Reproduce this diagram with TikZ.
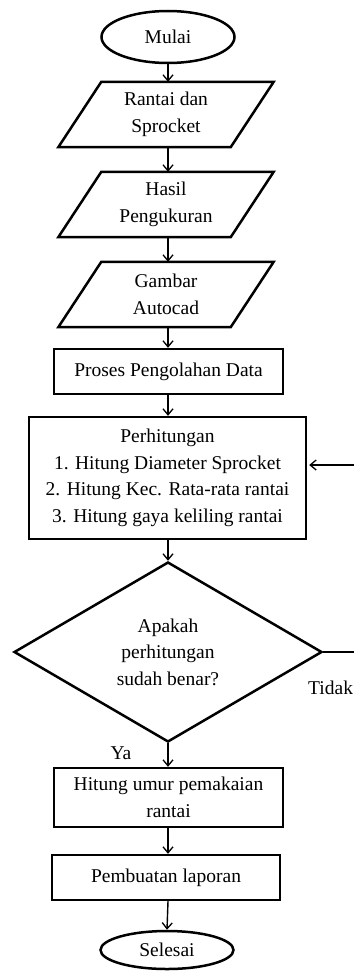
\documentclass[tikz,border=0pt]{standalone}
\usepackage{fontspec}
\setmainfont{Liberation Serif}
\usetikzlibrary{arrows.meta,shapes.geometric,shadows}
\begin{document}
\begin{tikzpicture}[x=1pt,y=-1pt,
  font=\fontsize{19.5}{26.5}\selectfont,
  conn/.style={line width=1.4pt,-{Straight Barb[length=6pt,width=10pt,line width=1.3pt]}},
  plain/.style={line width=1.4pt},
  term/.style={ellipse,draw,line width=2.5pt,minimum width=133pt,minimum height=52pt,inner sep=0pt},
  box/.style={rectangle,draw,line width=2.4pt,fill=white,inner sep=0pt,align=center,
    drop shadow={shadow xshift=1.3pt,shadow yshift=-1.3pt,fill=black,opacity=1}},
  io/.style={rectangle,inner sep=0pt,align=center,minimum width=172pt,minimum height=65pt},
  iofr/.style={line width=2.5pt,line join=miter},
  dec/.style={diamond,draw,line width=2.5pt,inner sep=0pt,align=center,
    minimum width=308pt,minimum height=180pt,aspect=1.7},
  lbl/.style={inner sep=0pt},
]
\useasboundingbox (0,0) rectangle (354,971);

\node[term] (m) at (168,37) {Mulai};
\node[io] (p1) at (166,114.5) {Rantai dan\\Sprocket};
\node[io] (p2) at (166,204.5) {Hasil\\Pengukuran};
\node[io] (p3) at (166,294.5) {Gambar\\Autocad};
\foreach \n in {p1,p2,p3}
  \draw[iofr] ([xshift=21.5pt]\n.north west) -- ([xshift=21.5pt]\n.north east)
    -- ([xshift=-21.5pt]\n.south east) -- ([xshift=-21.5pt]\n.south west) -- cycle;
\node[box,minimum width=229pt,minimum height=45pt] (pr) at (168.5,371.5) {Proses Pengolahan Data};
\node[box,minimum width=277pt,minimum height=122pt] (ph) at (167.5,478)
  {Perhitungan\\1. Hitung Diameter Sprocket\\2. Hitung Kec. Rata-rata rantai\\3. Hitung gaya keliling rantai};
\node[dec] (d) at (168,652) {Apakah\\perhitungan\\sudah benar?};
\node[box,minimum width=229pt,minimum height=59pt] (hu) at (168.5,797.5) {Hitung umur pemakaian\\rantai};
\node[box,minimum width=228pt,minimum height=45pt] (pl) at (166,877.5) {Pembuatan laporan};
\node[term,minimum height=38pt] (s) at (167,950) {Selesai};

\node[lbl,anchor=west] (tidak) at (308,688) {Tidak};
\node[lbl] (ya) at (121,753) {Ya};

\coordinate (r1) at (354,652);
\coordinate (r2) at (354,465);

\draw[conn] (m.south) -- (m.south |- p1.north);
\draw[conn] (m.south |- p1.south) -- (m.south |- p2.north);
\draw[conn] (m.south |- p2.south) -- (m.south |- p3.north);
\draw[conn] (m.south |- p3.south) -- (m.south |- pr.north);
\draw[conn] (m.south |- pr.south) -- (m.south |- ph.north);
\draw[conn] (m.south |- ph.south) -- (d.north);
\draw[conn] (d.south) -- (d.south |- hu.north);
\draw[conn] (d.south |- hu.south) -- (d.south |- pl.north);
\draw[conn] (d.south |- pl.south) -- (s.north);
\draw[plain] (d.east) -- (r1);
\draw[conn] (r2) -- ([xshift=2pt]r2 -| ph.east);
\end{tikzpicture}
\end{document}
